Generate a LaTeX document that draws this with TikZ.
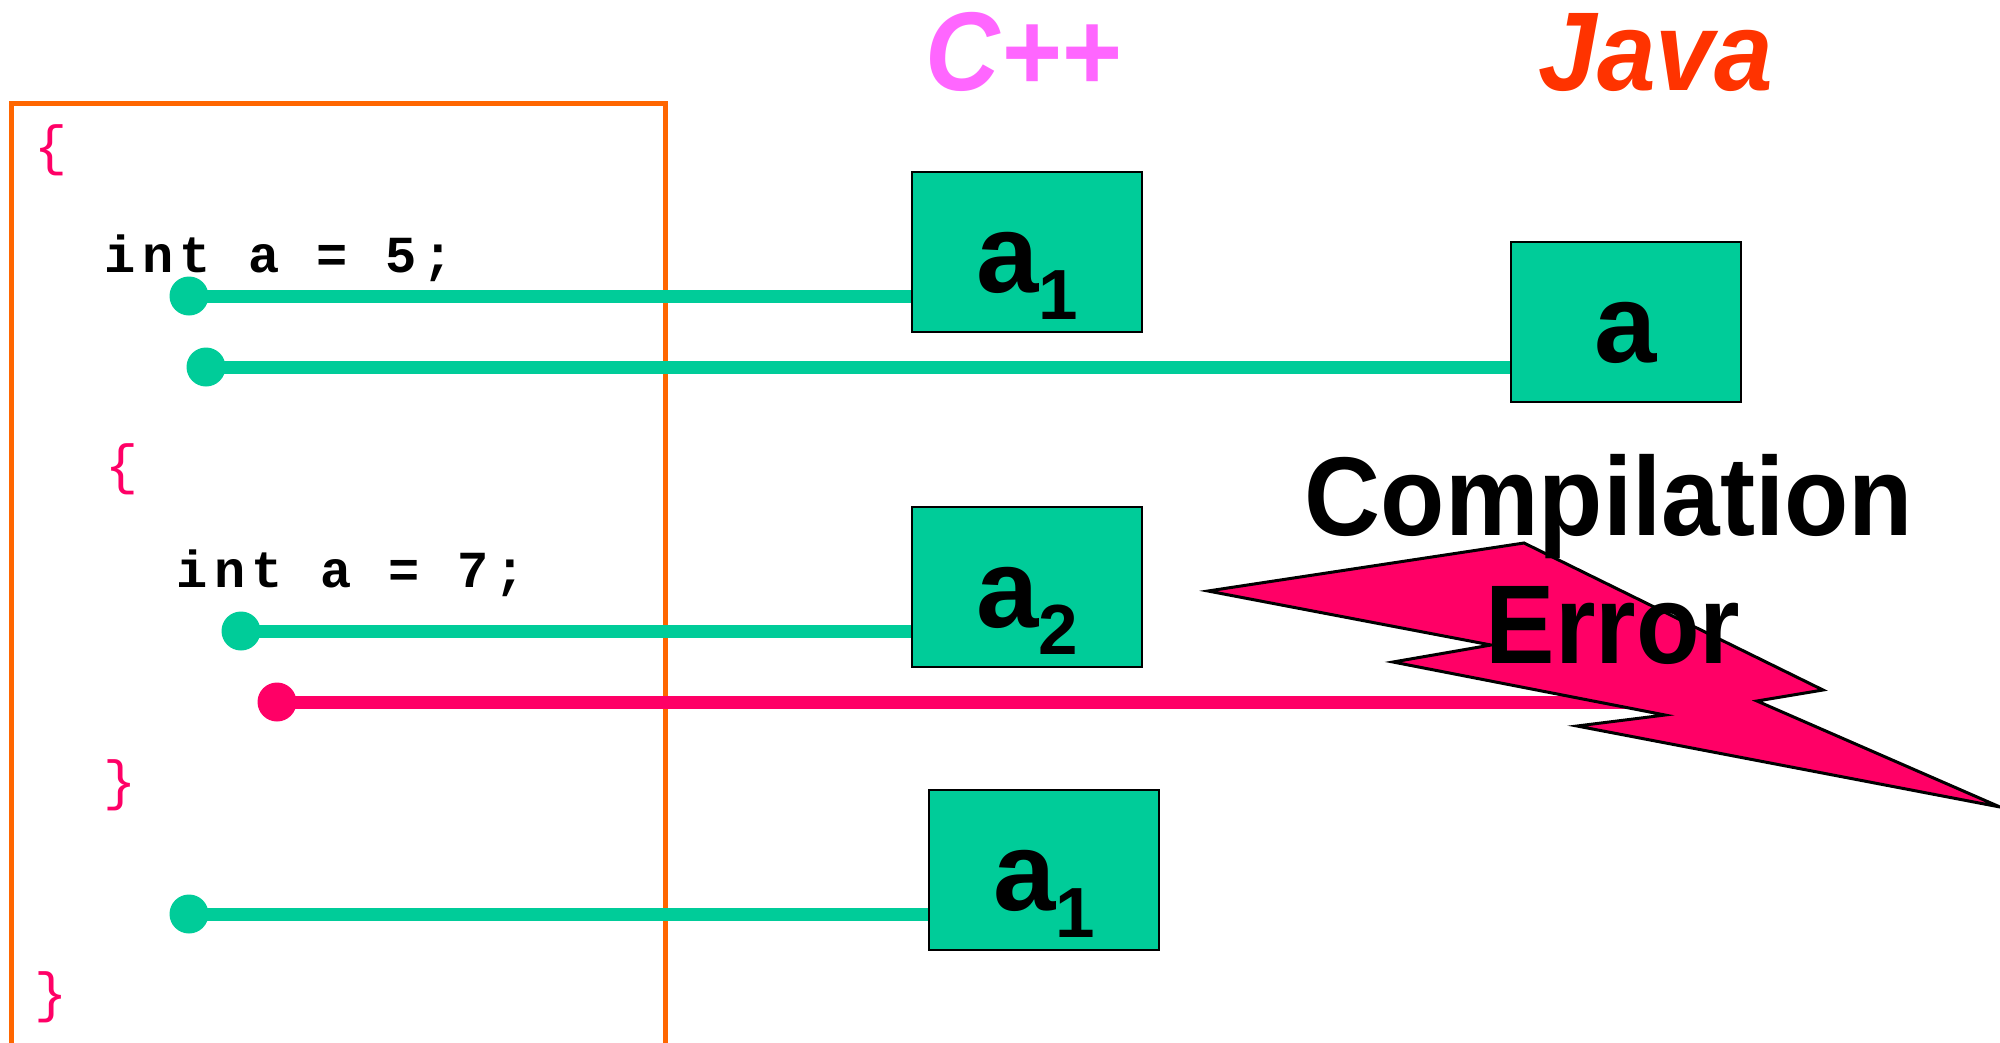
\documentclass[tikz,border=0pt]{standalone}
\usepackage{fontspec}
\setmainfont{Liberation Sans}
\newfontfamily\codefont[LetterSpace=12]{Liberation Mono}
\newfontfamily\bracefont{Liberation Mono}
\newlength{\unitpx}
\setlength{\unitpx}{0.01cm}
\definecolor{scopeorange}{HTML}{FF6600}
\definecolor{varteal}{HTML}{00CC99}
\definecolor{errpink}{HTML}{FF0066}
\definecolor{cppmagenta}{HTML}{FF66FF}
\definecolor{javared}{HTML}{FF3300}
\newcommand{\bigfont}{\fontsize{112\unitpx}{130\unitpx}\selectfont\bfseries}
\newcommand{\subidx}[1]{\raisebox{-27\unitpx}{\fontsize{71\unitpx}{80\unitpx}\selectfont\bfseries #1}}
\begin{document}
\begin{tikzpicture}[x=0.01cm, y=-0.01cm,
  title/.style={inner sep=0pt, anchor=base, font=\bigfont\itshape},
  bigtext/.style={inner sep=0pt, anchor=base, font=\bigfont},
  code/.style={inner sep=0pt, anchor=base west, font=\codefont\bfseries\fontsize{52\unitpx}{60\unitpx}\selectfont},
  brace/.style={inner sep=0pt, text=errpink, font=\bracefont\fontsize{55\unitpx}{64\unitpx}\selectfont},
  varbox/.style={draw=black, line width=2\unitpx, fill=varteal, minimum width=230\unitpx,
    minimum height=160\unitpx, inner sep=0pt, text height=80\unitpx, text depth=0pt, font=\bigfont},
  dot/.style={circle, inner sep=0pt, minimum size=39\unitpx},
  link/.style={line width=13\unitpx},
]
\useasboundingbox (0,0) rectangle (2000,1042);

% block scope frame (runs off the bottom)
\draw[scopeorange, line width=5\unitpx] (11,1060) -- (11,103) -- (665,103) -- (665,1060);

% language headings
\node[title, text=cppmagenta] (cpp) at (1023,90) {\scalebox{0.92}[1]{C++}};
\node[title, text=javared] (java) at (1656,90) {\scalebox{0.94}[1]{Java}};

% source code
\node[brace] (ob1) at (51,150) {\{};
\node[code] (decl1) at (104,272) {int a = 5;};
\node[brace] (ob2) at (122,469) {\{};
\node[code] (decl2) at (176,587) {int a = 7;};
\node[brace] (cb2) at (120,785) {\}};
\node[brace] (cb1) at (51,997) {\}};

% storage boxes
\node[varbox] (cppA1) at (1027,252) {a\subidx{1}};
\node[varbox] (javaA) at (1626,322) {a};
\node[varbox] (cppA2) at (1027,587) {a\subidx{2}};
\node[varbox] (cppA3) at (1044,870) {a\subidx{1}};

% binding dots
\node[dot, fill=varteal] (d1) at (189,296) {};
\node[dot, fill=varteal] (d2) at (206,367) {};
\node[dot, fill=varteal] (d3) at (241,631) {};
\node[dot, fill=errpink] (d4) at (277,702) {};
\node[dot, fill=varteal] (d5) at (189,914) {};
\coordinate (errEnd) at (1700,702);

% bindings
\draw[link, varteal] (d1.center) -- (d1.center -| cppA1.west);
\draw[link, varteal] (d2.center) -- (d2.center -| javaA.west);
\draw[link, varteal] (d3.center) -- (d3.center -| cppA2.west);
\draw[link, errpink] (d4.center) -- (errEnd);
\draw[link, varteal] (d5.center) -- (d5.center -| cppA3.west);

% lightning bolt
\draw[fill=errpink, draw=black, line width=3\unitpx, line join=miter]
  (1208,591) -- (1524,543) -- (1823,690) -- (1757,701) -- (2000,807)
  -- (1577,726) -- (1665,715) -- (1393,662) -- (1491,645) -- cycle;

% error message
\node[bigtext] (errA) at (1609,535) {\scalebox{0.94}[1]{Compilation}};
\node[bigtext] (errB) at (1613,663) {\scalebox{0.93}[1]{Error}};
\end{tikzpicture}
\end{document}
